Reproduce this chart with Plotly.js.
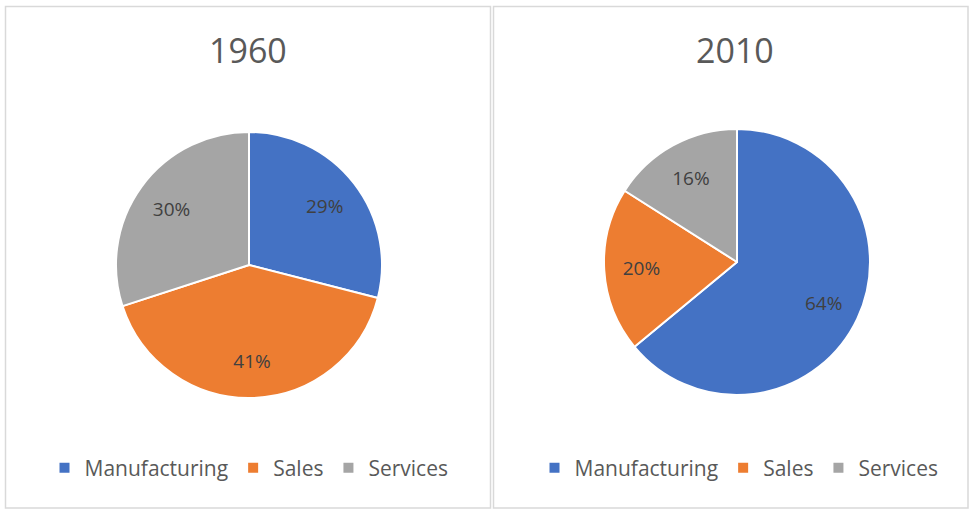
<!DOCTYPE html>
<html>
<head>
<meta charset="utf-8">
<script src="https://cdn.plot.ly/plotly-3.0.1.min.js"></script>
<style>
html,body{margin:0;padding:0;background:#fff;}
#wrap{position:relative;width:969px;height:514px;}
#c1{position:absolute;left:0;top:0;width:492px;height:514px;}
#c2{position:absolute;left:492px;top:0;width:477px;height:514px;}
</style>
</head>
<body>
<div id="wrap"><div id="c1"></div><div id="c2"></div></div>
<script>
var categories = ["Manufacturing", "Sales", "Services"];
var values1960 = [29, 41, 30];
var values2010 = [64, 20, 16];
var chartTitles = ["1960", "2010"];
var sliceColors = ["#4472C4", "#ED7D31", "#A5A5A5"];

var H = 514;
var FONT = "Open Sans, sans-serif";

function drawPanel(divId, W, values, title, g) {
  function px(x){return x / W;}
  function py(y){return 1 - y / H;}
  var domain = {x: [px(g.pieL), px(g.pieL + 2 * g.r)], y: [py(g.pieT + 2 * g.r), py(g.pieT)]};
  var pie = {
    type: "pie",
    labels: categories,
    values: values,
    name: title,
    sort: false,
    direction: "clockwise",
    rotation: 0,
    textinfo: "none",
    marker: {colors: sliceColors, line: {color: "#ffffff", width: 2}},
    domain: domain,
    hoverinfo: "label+percent"
  };
  // transparent ring carrying the percentage labels (pushes labels outward like Excel)
  var labelsRing = {
    type: "pie",
    labels: categories,
    values: values,
    sort: false,
    direction: "clockwise",
    rotation: 0,
    hole: 0.44,
    textinfo: "percent",
    textposition: "inside",
    insidetextorientation: "horizontal",
    textfont: {family: FONT, size: 19, color: "#404040"},
    marker: {colors: ["rgba(0,0,0,0)", "rgba(0,0,0,0)", "rgba(0,0,0,0)"], line: {width: 0}},
    domain: domain,
    showlegend: false,
    hoverinfo: "skip"
  };
  var layout = {
    width: W, height: H,
    margin: {l: 0, r: 0, t: 0, b: 0},
    paper_bgcolor: "rgba(0,0,0,0)",
    showlegend: true,
    legend: {
      orientation: "h", xanchor: "center", yanchor: "middle",
      x: px(g.legX), y: py(468),
      font: {family: FONT, size: 21, color: "#595959"},
      itemwidth: 30, bgcolor: "rgba(0,0,0,0)"
    },
    annotations: [
      {text: title, x: px(g.titleX), y: py(50), xref: "paper", yref: "paper", showarrow: false,
       xanchor: "center", yanchor: "middle", font: {family: FONT, size: 34, color: "#595959"}}
    ],
    shapes: [
      {type: "rect", xref: "paper", yref: "paper", x0: px(g.bL), x1: px(g.bR), y0: py(508), y1: py(6.5),
       line: {color: "#d9d9d9", width: 1.5}}
    ]
  };
  Plotly.newPlot(divId, [pie, labelsRing], layout, {displayModeBar: false, staticPlot: true});
}

drawPanel("c1", 492, values1960, chartTitles[0],
  {pieL: 116, pieT: 132, r: 133, legX: 249, titleX: 248, bL: 5.5, bR: 490.5});
drawPanel("c2", 477, values2010, chartTitles[1],
  {pieL: 112, pieT: 129, r: 133, legX: 247, titleX: 243, bL: 1.5, bR: 476});
</script>
</body>
</html>
